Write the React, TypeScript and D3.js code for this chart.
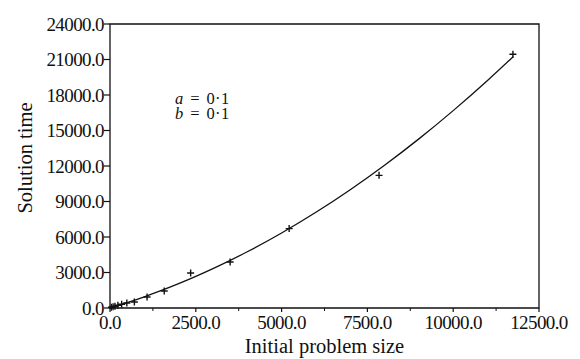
import React from 'react';
import * as d3 from 'd3';

// measured points (initial problem size, solution time)
const sizes = [40, 90, 145, 230, 340, 490, 710, 1080, 1580, 2350, 3500, 5220, 7840, 11740];
const times = [60, 100, 145, 230, 315, 425, 505, 930, 1440, 2960, 3890, 6710, 11210, 21440];

// fitted curve
const curveX = [0, 500, 1000, 1500, 2000, 2500, 3000, 4000, 5000, 6000, 7000, 8000, 9000, 10000, 11000, 11750];
const curveY = [0, 454, 948, 1482, 2056, 2670, 3324, 4752, 6340, 8088, 9996, 12064, 14292, 16680, 19228, 21244];

const xTicks = [0, 2500, 5000, 7500, 10000, 12500];
const xMinor = [1250, 3750, 6250, 8750, 11250];
const yTicks = [0, 3000, 6000, 9000, 12000, 15000, 18000, 21000, 24000];

const W = 580;
const H = 359;
const margin = { top: 24, right: 41, bottom: 51, left: 110 };
const font = '"Liberation Serif", "DejaVu Serif", serif';

export default function App() {
  const x = d3.scaleLinear().domain([0, 12500]).range([margin.left, W - margin.right]);
  const y = d3.scaleLinear().domain([0, 24000]).range([H - margin.bottom, margin.top]);

  const line = d3.line<number>()
    .x((_, i) => x(curveX[i]))
    .y((d) => y(d))
    .curve(d3.curveMonotoneX);

  const x0 = x(0), x1 = x(12500), y0 = y(0), y1 = y(24000);

  return (
    <svg width={W} height={H} style={{ position: 'absolute', left: 0, top: 0, background: '#fff' }}
      fontFamily={font}>
      {/* frame */}
      <path d={`M${x0},${y1}H${x1}V${y0}H${x0}Z`} fill="none" stroke="#111" strokeWidth={1.3} />

      {/* y axis */}
      {yTicks.map((t) => (
        <g key={t}>
          <line x1={x0 - 6} x2={x0} y1={y(t)} y2={y(t)} stroke="#111" strokeWidth={1.2} />
          <text x={x0 - 6} y={y(t) + 6.5} textAnchor="end" fontSize={19} letterSpacing={-0.6} fill="#111">
            {t.toFixed(1)}
          </text>
        </g>
      ))}

      {/* x axis */}
      {xTicks.map((t) => (
        <g key={t}>
          <line x1={x(t)} x2={x(t)} y1={y0} y2={y0 + 4} stroke="#111" strokeWidth={1.2} />
          <text x={x(t)} y={y0 + 21} textAnchor="middle" fontSize={19} letterSpacing={-0.6} fill="#111">
            {t.toFixed(1)}
          </text>
        </g>
      ))}
      {xMinor.map((t) => (
        <line key={t} x1={x(t)} x2={x(t)} y1={y0} y2={y0 + 3} stroke="#111" strokeWidth={1} />
      ))}

      {/* axis titles */}
      <text x={(x0 + x1) / 2} y={353} textAnchor="middle" fontSize={20.5} fill="#111">
        Initial problem size
      </text>
      <text transform={`translate(32,158) rotate(-90)`} textAnchor="middle" fontSize={20.5} fill="#111">
        Solution time
      </text>

      {/* fitted curve */}
      <path d={line(curveY) || ''} fill="none" stroke="#111" strokeWidth={1.3} />

      {/* data points */}
      {sizes.map((s, i) => {
        const cx = x(s), cy = y(times[i]);
        return (
          <path key={i} d={`M${cx - 3.5},${cy}H${cx + 3.5}M${cx},${cy - 3.5}V${cy + 3.5}`}
            stroke="#111" strokeWidth={1.4} />
        );
      })}

      {/* annotation */}
      <text x={175} y={104} fontSize={16.5} wordSpacing={2} letterSpacing={0.4} fill="#111">
        <tspan fontStyle="italic">a</tspan>
        <tspan> = 0·1</tspan>
        <tspan x={175} dy={15} fontStyle="italic">b</tspan>
        <tspan> = 0·1</tspan>
      </text>
    </svg>
  );
}
